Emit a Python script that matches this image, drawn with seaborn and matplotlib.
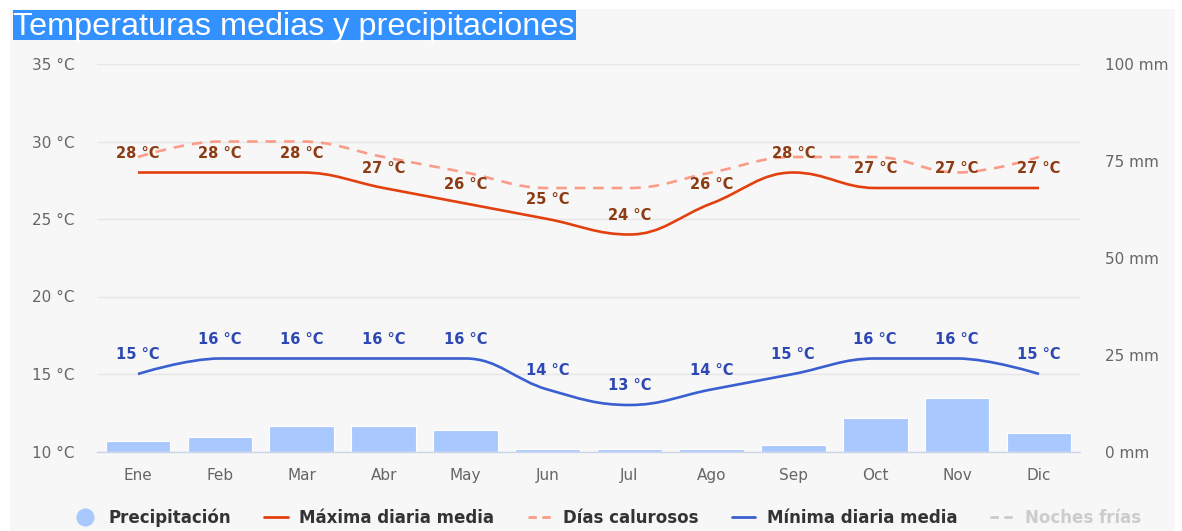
import matplotlib
matplotlib.use("Agg")
import matplotlib.pyplot as plt
from matplotlib.path import Path
from matplotlib.patches import PathPatch, Rectangle
from matplotlib.lines import Line2D
import seaborn as sns

# Monthly climate data
months = ["Ene", "Feb", "Mar", "Abr", "May", "Jun", "Jul", "Ago", "Sep", "Oct", "Nov", "Dic"]
precip_mm = [2.8, 3.8, 6.6, 6.6, 5.5, 0.7, 0.7, 0.7, 1.7, 8.6, 13.8, 4.9]
max_temp = [28, 28, 28, 27, 26, 25, 24, 26, 28, 27, 27, 27]
hot_days = [29, 30, 30, 29, 28, 27, 27, 28, 29, 29, 28, 29]
min_temp = [15, 16, 16, 16, 16, 14, 13, 14, 15, 16, 16, 15]

temp_ticks = [10, 15, 20, 25, 30, 35]
precip_ticks = [0, 25, 50, 75, 100]

W, H = 1182, 531
RED = "#e2410f"
SALMON = "#fa9c88"
BLUE = "#3a5fd0"
BAR = "#a9c8fe"
GRID = "#e6e6e6"
AXIS = "#ccd6eb"
TXT = "#666666"

sns.set_style("white")
plt.rcParams["font.family"] = ["DejaVu Sans"]


def spline_path(xs, ys, smoothing=1.5):
    """Bezier path like the Highcharts 'spline' series."""
    denom = smoothing + 1
    n = len(xs)
    left = [None] * n
    right = [None] * n
    for i in range(1, n - 1):
        px, py = xs[i], ys[i]
        lx, ly = xs[i - 1], ys[i - 1]
        nx, ny = xs[i + 1], ys[i + 1]
        lcx = (smoothing * px + lx) / denom
        lcy = (smoothing * py + ly) / denom
        rcx = (smoothing * px + nx) / denom
        rcy = (smoothing * py + ny) / denom
        if rcx != lcx:
            corr = (rcy - lcy) * (rcx - px) / (rcx - lcx) + py - rcy
            lcy += corr
            rcy += corr
        if lcy > ly and lcy > py:
            lcy = max(ly, py)
            rcy = 2 * py - lcy
        elif lcy < ly and lcy < py:
            lcy = min(ly, py)
            rcy = 2 * py - lcy
        if rcy > ny and rcy > py:
            rcy = max(ny, py)
            lcy = 2 * py - rcy
        elif rcy < ny and rcy < py:
            rcy = min(ny, py)
            lcy = 2 * py - rcy
        left[i] = (lcx, lcy)
        right[i] = (rcx, rcy)
    verts = [(xs[0], ys[0])]
    codes = [Path.MOVETO]
    for i in range(1, n):
        verts.append(right[i - 1] or (xs[i - 1], ys[i - 1]))
        verts.append(left[i] or (xs[i], ys[i]))
        verts.append((xs[i], ys[i]))
        codes += [Path.CURVE4] * 3
    return Path(verts, codes)


fig = plt.figure(figsize=(W / 100, H / 100), dpi=100, facecolor="white")
fig.patches.append(Rectangle((10 / W, 0), (1175 - 10) / W, (H - 9) / H,
                             transform=fig.transFigure, facecolor="#f7f7f7",
                             edgecolor="none", zorder=-5))

ax = fig.add_axes([97 / W, 1 - 451.5 / H, (1080 - 97) / W, (451.5 - 64) / H])
axp = ax.twinx()

# precipitation bars on the right axis
sns.barplot(x=months, y=precip_mm, ax=axp, color=BAR, saturation=1,
            width=0.79, edgecolor="white", linewidth=0.8)
axp.set_ylim(0, 100)
axp.set_yticks(precip_ticks)
axp.set_yticklabels([f"{v} mm" for v in precip_ticks])
axp.tick_params(axis="y", length=0, pad=18, labelsize=11, labelcolor=TXT)
axp.set_ylabel("")
for s in axp.spines.values():
    s.set_visible(False)

# temperature lines on the left axis, drawn over the bars
ax.set_zorder(axp.get_zorder() + 1)
ax.patch.set_visible(False)
xs = list(range(len(months)))
ax.add_patch(PathPatch(spline_path(xs, hot_days), facecolor="none", edgecolor=SALMON,
                       lw=1.9, linestyle=(0, (4, 3)), capstyle="butt"))
ax.add_patch(PathPatch(spline_path(xs, max_temp), facecolor="none", edgecolor=RED, lw=1.9))
ax.add_patch(PathPatch(spline_path(xs, min_temp), facecolor="none", edgecolor=BLUE, lw=1.9))

for i, v in enumerate(max_temp):
    ax.annotate(f"{v} °C", (i, v), xytext=(0, 14), textcoords="offset points",
                ha="center", va="center", fontsize=10.5, fontweight="bold", color="#8c3b12")
for i, v in enumerate(min_temp):
    ax.annotate(f"{v} °C", (i, v), xytext=(0, 14), textcoords="offset points",
                ha="center", va="center", fontsize=10.5, fontweight="bold", color="#2d48b2")

ax.set_xlim(-0.5, len(months) - 0.5)
ax.set_ylim(10, 35)
ax.set_yticks(temp_ticks)
ax.set_yticklabels([f"{v} °C" for v in temp_ticks])
ax.set_xticks(xs)
ax.set_xticklabels(months)
ax.grid(axis="y", color=GRID, lw=1)
ax.grid(axis="x", visible=False)
ax.tick_params(axis="y", length=0, pad=16, labelsize=11, labelcolor=TXT)
ax.tick_params(axis="x", length=7, width=1, color=AXIS, direction="out",
               pad=5, labelsize=11, labelcolor=TXT)
for name, s in ax.spines.items():
    s.set_visible(name == "bottom")
ax.spines["bottom"].set_color(AXIS)
ax.spines["bottom"].set_linewidth(1)

# title with its blue highlight box
fig.patches.append(Rectangle((13 / W, 1 - 40 / H), (576 - 13) / W, 30 / H,
                             transform=fig.transFigure, facecolor="#3390ff",
                             edgecolor="none", zorder=-4))
fig.text(13 / W, 1 - 34.5 / H, "Temperaturas medias y precipitaciones", family="Liberation Sans",
         fontsize=23.3, color="white", ha="left", va="baseline")

handles = [
    Line2D([], [], ls="none", marker="o", markersize=12, markerfacecolor=BAR, markeredgecolor=BAR),
    Line2D([], [], color=RED, lw=2),
    Line2D([], [], color=SALMON, lw=2, ls=(0, (3, 2))),
    Line2D([], [], color=BLUE, lw=2),
    Line2D([], [], color="#cccccc", lw=2, ls=(0, (3, 2))),
]
labels = ["Precipitación", "Máxima diaria media", "Días calurosos", "Mínima diaria media", "Noches frías"]
leg = fig.legend(handles, labels, loc="center", bbox_to_anchor=(0.514, 1 - 518 / H), ncol=5,
                 frameon=False, prop={"weight": "bold", "size": 12}, handlelength=1.4,
                 handletextpad=0.7, columnspacing=2.0)
for t, c in zip(leg.get_texts(), ["#333333"] * 4 + ["#cccccc"]):
    t.set_color(c)

fig.savefig("out.png", dpi=100)
